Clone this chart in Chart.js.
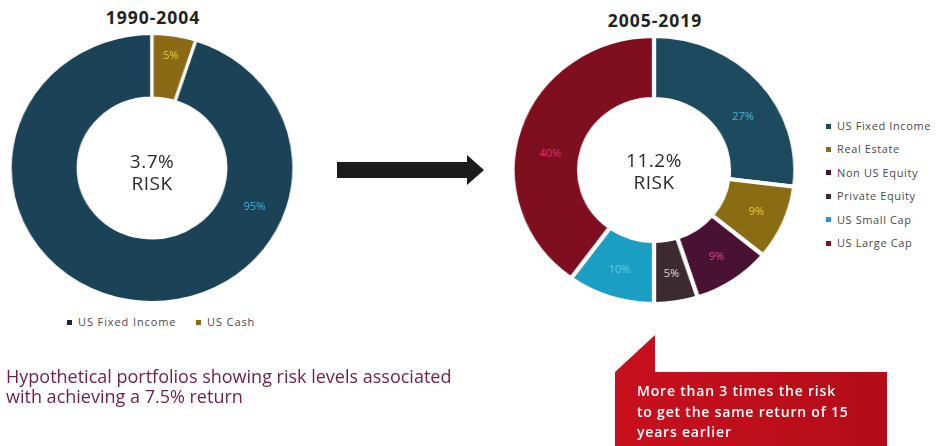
<!DOCTYPE html>
<html>
<head>
<meta charset="utf-8">
<script src="https://cdn.jsdelivr.net/npm/chart.js@4.4.1/dist/chart.umd.min.js"></script>
<style>
  html,body{margin:0;padding:0;background:#fff;}
  #stage{position:relative;width:938px;height:446px;overflow:hidden;font-family:"Open Sans",sans-serif;}
  .wrap{position:absolute;width:272px;height:272px;transform:scaleX(1.055);}
  .title{position:absolute;font-weight:700;font-size:17.5px;letter-spacing:1px;color:#222;text-align:center;width:200px;}
  .center{position:absolute;text-align:center;width:140px;color:#2a2a2a;font-size:19px;line-height:22px;letter-spacing:0.5px;}
  .leg{position:absolute;font-size:11px;color:#4a4a4a;}
  .leg span.m{display:inline-block;width:5px;height:5px;margin-right:6px;vertical-align:middle;position:relative;top:-1px;}
  .legrow{position:absolute;white-space:nowrap;}
  #leg1 .legrow{letter-spacing:0.9px;}
  #leg2 .legrow{letter-spacing:0.6px;}
  #sub{position:absolute;left:6px;top:367px;font-size:18px;line-height:19.5px;color:#731d48;}
  #callText{position:absolute;left:637px;top:381px;font-size:14px;font-weight:600;letter-spacing:0.8px;line-height:20.5px;color:#fff;}
</style>
</head>
<body>
<div id="stage">
  <div class="title" style="left:53px;top:5px;">1990-2004</div>
  <div class="title" style="left:555px;top:8px;">2005-2019</div>

  <div class="wrap" id="w1" style="left:16px;top:32px;"><canvas id="c1"></canvas></div>
  <div class="wrap" id="w2" style="left:518px;top:34px;"><canvas id="c2"></canvas></div>

  <div class="center" style="left:82px;top:150px;">3.7%<br>RISK</div>
  <div class="center" style="left:584px;top:149px;">11.2%<br>RISK</div>

  <div class="leg" id="leg1" style="left:0;top:314px;"></div>
  <div class="leg" id="leg2" style="left:826px;top:0;"></div>

  <svg width="938" height="446" style="position:absolute;left:0;top:0;pointer-events:none;">
    <polygon points="337,162 467,162 467,155 484,170 467,185 467,178 337,178" fill="#1b1b1b"/>
    <defs>
      <linearGradient id="rg" x1="0" y1="0" x2="1" y2="0">
        <stop offset="0" stop-color="#c8101d"/>
        <stop offset="1" stop-color="#b30d18"/>
      </linearGradient>
    </defs>
    <polygon points="615,446 615,372 655,335 655,372 887,372 887,446" fill="url(#rg)"/>
  </svg>

  <div id="sub">Hypothetical portfolios showing risk levels associated<br>with achieving a 7.5% return</div>
  <div id="callText">More than 3 times the risk<br>to get the same return of 15<br>years earlier</div>
</div>

<script>
// ---- Data ----
const leftCategories = ['US Fixed Income', 'US Cash'];
const leftValues = [95, 5];
const leftColors = ['#1b4256', '#8a6a14'];
const leftLabelColors = ['#3db9e2', '#eacb4c'];

const rightCategories = ['US Fixed Income', 'Real Estate', 'Non US Equity', 'Private Equity', 'US Small Cap', 'US Large Cap'];
const rightValues = [27, 9, 9, 5, 10, 40];
const rightColors = ['#1d4a5e', '#8a6d12', '#4a1232', '#3b2a30', '#1b9ec3', '#7f0f1f'];
const rightLabelColors = ['#4cbcdc', '#f0cd3e', '#e0469c', '#eadede', '#6ccbe6', '#ea327c'];

// ---- Slice label plugin ----
const sliceLabels = {
  id: 'sliceLabels',
  afterDatasetsDraw(chart, args, opts) {
    const ctx = chart.ctx;
    const meta = chart.getDatasetMeta(0);
    const ds = chart.data.datasets[0];
    ctx.save();
    ctx.font = '10.5px "Open Sans", sans-serif';
    ctx.textAlign = 'center';
    ctx.textBaseline = 'middle';
    meta.data.forEach((arc, i) => {
      const p = arc.getProps(['x', 'y', 'startAngle', 'endAngle', 'innerRadius', 'outerRadius'], true);
      let a = (p.startAngle + p.endAngle) / 2;
      if (opts.angles && opts.angles[i] != null) a = -Math.PI / 2 + opts.angles[i] * Math.PI / 180;
      const f = (opts.radial && opts.radial[i] != null) ? opts.radial[i] : 0.52;
      const r = p.innerRadius + (p.outerRadius - p.innerRadius) * f;
      ctx.fillStyle = opts.colors[i];
      ctx.fillText(ds.data[i] + '%', p.x + Math.cos(a) * r, p.y + Math.sin(a) * r);
    });
    ctx.restore();
  }
};

function makeDonut(id, cats, vals, cols, labelCols, rotation, cutout, bw, angles, radial) {
  return new Chart(document.getElementById(id), {
    type: 'doughnut',
    data: {
      labels: cats,
      datasets: [{ data: vals, backgroundColor: cols, borderColor: '#ffffff', borderWidth: bw }]
    },
    options: {
      responsive: true,
      maintainAspectRatio: false,
      animation: false,
      rotation: rotation,
      cutout: cutout,
      layout: { padding: 0 },
      plugins: {
        legend: { display: false },
        tooltip: { enabled: false },
        sliceLabels: { colors: labelCols, angles: angles, radial: radial }
      }
    },
    plugins: [sliceLabels]
  });
}

makeDonut('c1', leftCategories, leftValues, leftColors, leftLabelColors, 18, '52%', 3, [112, null], [0.54, 0.68]);
makeDonut('c2', rightCategories, rightValues, rightColors, rightLabelColors, 0, '53%', 4, [58, null, null, null, null, 279], [0.45, 0.55, 0.55, 0.55, 0.55, 0.45]);

// ---- HTML legends built from the category arrays ----
const leg1 = document.getElementById('leg1');
const leg1X = [67, 196];
leftCategories.forEach((c, i) => {
  const d = document.createElement('div');
  d.className = 'legrow';
  d.style.left = leg1X[i] + 'px';
  d.style.top = '0px';
  d.innerHTML = '<span class="m" style="background:' + (i === 0 ? '#1a2a33' : leftColors[i]) + '"></span>' + c;
  leg1.appendChild(d);
});
const leg2 = document.getElementById('leg2');
rightCategories.forEach((c, i) => {
  const d = document.createElement('div');
  d.className = 'legrow';
  d.style.left = '0px';
  d.style.top = (118 + i * 23.4) + 'px';
  d.innerHTML = '<span class="m" style="background:' + rightColors[i] + '"></span>' + c;
  leg2.appendChild(d);
});
</script>
</body>
</html>
